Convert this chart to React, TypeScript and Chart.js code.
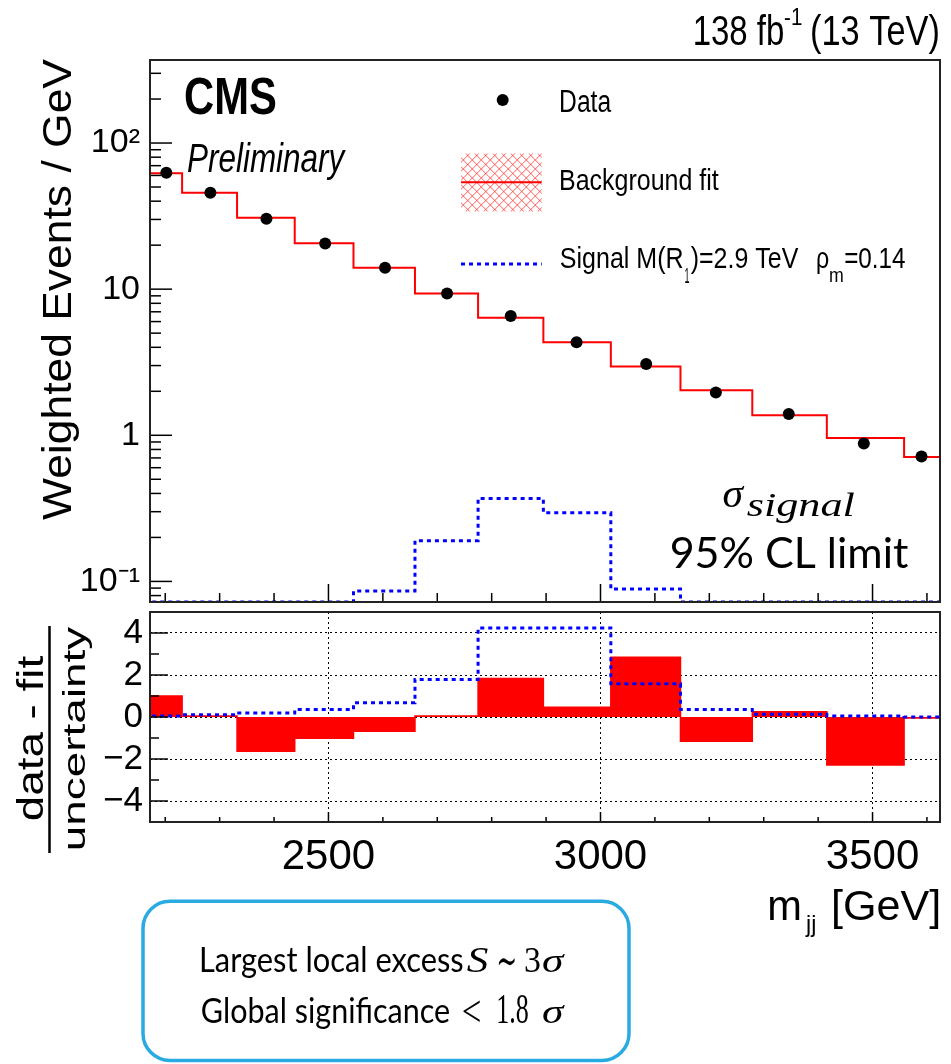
import React, { useEffect, useRef } from 'react';
import { Chart, registerables } from 'chart.js';

Chart.register(...registerables);

// ---------------- data ----------------
const BIN_EDGES = [2132, 2231, 2332, 2438, 2546, 2659, 2775, 2895, 3019, 3147, 3279, 3416, 3558, 3704];
const DATA_X = [2202, 2283, 2386, 2494, 2604, 2718, 2835, 2956, 3084, 3212, 3346, 3484, 3590];
const DATA_Y = [62.5, 45.6, 30.3, 20.5, 14.0, 9.35, 6.55, 4.33, 3.08, 1.96, 1.4, 0.877, 0.716];
const FIT_Y = [62.0, 45.6, 30.8, 20.6, 14.0, 9.35, 6.37, 4.33, 2.96, 2.03, 1.37, 0.96, 0.711];
const SIGNAL_Y = [0.0723, 0.0723, 0.0723, 0.0723, 0.086, 0.19, 0.37, 0.295, 0.0887, 0.0723, 0.0723, 0.0723, 0.0723];
const RESIDUAL_Y = [1.0, 0.05, -1.63, -1.01, -0.68, 0.05, 1.83, 0.47, 2.84, -1.15, 0.25, -2.29, -0.05];
const SIGNAL_RESIDUAL_Y = [0.05, 0.11, 0.19, 0.36, 0.68, 1.79, 4.24, 4.24, 1.58, 0.36, 0.13, 0.05, 0.0];

const X_MIN = 2172;
const X_MAX = 3624;
const X_MAJOR_TICKS = [2500, 3000, 3500];
const X_TICK_LABELS = ['2500', '3000', '3500'];
const X_MINOR_TICKS = [2200, 2300, 2400, 2500, 2600, 2700, 2800, 2900, 3000, 3100, 3200, 3300, 3400, 3500, 3600];

const Y_MIN = 0.0723;
const Y_MAX = 370;
const Y_MAJOR_TICKS = [0.1, 1, 10, 100];
const Y_TICK_LABELS = ['10\u207B\u00B9', '1', '10', '10\u00B2'];

const R_MIN = -5;
const R_MAX = 5;
const R_MAJOR_TICKS = [-4, -2, 0, 2, 4];
const R_TICK_LABELS = ['\u22124', '\u22122', '0', '2', '4'];
const R_MINOR_TICKS = [-3, -1, 1, 3];

// ---------------- helpers ----------------
const SANS = "'Liberation Sans', Arial, Helvetica, sans-serif";
const SERIF = "'Liberation Serif', 'DejaVu Serif', serif";
const CAL = "Lato, 'Open Sans', sans-serif";

function hasFont(name: string): boolean {
  const c = document.createElement('canvas').getContext('2d');
  if (!c) return false;
  const s = 'mmmmlliiWW10';
  c.font = '40px monospace';
  const a = c.measureText(s).width;
  c.font = `40px '${name}', monospace`;
  const b = c.measureText(s).width;
  return a !== b;
}

function stepPoints(edges: number[], values: number[]) {
  const pts = values.map((v, i) => ({ x: edges[i], y: v }));
  pts.push({ x: edges[edges.length - 1], y: values[values.length - 1] });
  return pts;
}

// fit ink width only (keep font height)
function fitText(ctx: CanvasRenderingContext2D, text: string, left: number, right: number, baseline: number, font: string, color = '#000') {
  ctx.save();
  ctx.font = font;
  ctx.textAlign = 'left';
  ctx.textBaseline = 'alphabetic';
  const m = ctx.measureText(text);
  const ink = m.actualBoundingBoxLeft + m.actualBoundingBoxRight;
  const s = ink > 0 ? (right - left) / ink : 1;
  ctx.translate(left, baseline);
  ctx.scale(s, 1);
  ctx.fillStyle = color;
  ctx.fillText(text, m.actualBoundingBoxLeft, 0);
  ctx.restore();
}

// fit ink box (both width and height)
function fitBox(ctx: CanvasRenderingContext2D, text: string, left: number, right: number, top: number, bottom: number, font: string) {
  ctx.save();
  ctx.font = font;
  ctx.textAlign = 'left';
  ctx.textBaseline = 'alphabetic';
  const m = ctx.measureText(text);
  const iw = m.actualBoundingBoxLeft + m.actualBoundingBoxRight;
  const ih = m.actualBoundingBoxAscent + m.actualBoundingBoxDescent;
  const sx = iw > 0 ? (right - left) / iw : 1;
  const sy = ih > 0 ? (bottom - top) / ih : 1;
  ctx.translate(left, top);
  ctx.scale(sx, sy);
  ctx.fillStyle = '#000';
  ctx.fillText(text, m.actualBoundingBoxLeft, m.actualBoundingBoxAscent);
  ctx.restore();
}

function fitTextRot(ctx: CanvasRenderingContext2D, text: string, baseX: number, bottomY: number, topY: number, font: string) {
  ctx.save();
  ctx.font = font;
  ctx.textAlign = 'left';
  ctx.textBaseline = 'alphabetic';
  const m = ctx.measureText(text);
  const ink = m.actualBoundingBoxLeft + m.actualBoundingBoxRight;
  const s = ink > 0 ? (bottomY - topY) / ink : 1;
  ctx.translate(baseX, bottomY);
  ctx.rotate(-Math.PI / 2);
  ctx.scale(s, 1);
  ctx.fillStyle = '#000';
  ctx.fillText(text, m.actualBoundingBoxLeft, 0);
  ctx.restore();
}

function zeroPad(s: any) {
  s.paddingTop = 0;
  s.paddingBottom = 0;
  s.paddingLeft = 0;
  s.paddingRight = 0;
}

function line(ctx: CanvasRenderingContext2D, x1: number, y1: number, x2: number, y2: number) {
  ctx.beginPath();
  ctx.moveTo(x1, y1);
  ctx.lineTo(x2, y2);
  ctx.stroke();
}

// ---------------- plugins ----------------
const topDecor = {
  id: 'topDecor',
  afterDraw(chart: any) {
    const ctx: CanvasRenderingContext2D = chart.ctx;
    const { left, right, top, bottom } = chart.chartArea;
    const xs = chart.scales.x;
    const ys = chart.scales.y;
    ctx.save();
    // inward ticks
    ctx.strokeStyle = '#000';
    ctx.lineWidth = 1.5;
    X_MINOR_TICKS.forEach((v) => {
      const px = xs.getPixelForValue(v);
      const len = X_MAJOR_TICKS.includes(v) ? 18 : 9;
      line(ctx, px, bottom, px, bottom - len);
    });
    for (let e = -2; e <= 2; e++) {
      for (let k = 1; k <= 9; k++) {
        const v = k * Math.pow(10, e);
        if (v < Y_MIN || v > Y_MAX) continue;
        const py = ys.getPixelForValue(v);
        line(ctx, left, py, left + (k === 1 ? 22 : 11), py);
      }
    }
    // frame
    ctx.strokeStyle = '#222';
    ctx.lineWidth = 2;
    ctx.strokeRect(left, top, right - left, bottom - top);
    ctx.restore();

    // header
    fitText(ctx, '138 fb', 695, 783.3, 45, `42px ${SANS}`);
    fitText(ctx, '-1', 785, 801.7, 25, `23px ${SANS}`);
    fitText(ctx, '(13 TeV)', 811.7, 938.3, 45, `42px ${SANS}`);
    fitText(ctx, 'CMS', 185.7, 276, 114, `bold 51px ${SANS}`);
    fitText(ctx, 'Preliminary', 187.7, 346.7, 171.7, `italic 40px ${SANS}`);

    // y title
    fitTextRot(ctx, 'Weighted Events / GeV', 71, 520, 58.3, `41px ${SANS}`);

    // legend
    ctx.save();
    ctx.fillStyle = '#000';
    ctx.beginPath();
    ctx.arc(502.7, 100, 6, 0, Math.PI * 2);
    ctx.fill();
    // hatch box
    const hx = 461, hy = 153.3, hw = 80.7, hh = 58.4;
    ctx.save();
    ctx.beginPath();
    ctx.rect(hx, hy, hw, hh);
    ctx.clip();
    ctx.strokeStyle = 'rgba(255,40,40,0.75)';
    ctx.lineWidth = 1;
    for (let d = -hh; d < hw + hh; d += 9) {
      line(ctx, hx + d, hy, hx + d + hh, hy + hh);
      line(ctx, hx + d + hh, hy, hx + d, hy + hh);
    }
    ctx.restore();
    ctx.strokeStyle = '#ff0000';
    ctx.lineWidth = 2;
    line(ctx, hx, 182.3, hx + hw, 182.3);
    ctx.strokeStyle = '#0000ff';
    ctx.lineWidth = 3;
    ctx.setLineDash([4, 4]);
    line(ctx, hx, 264, hx + hw, 264);
    ctx.setLineDash([]);
    ctx.restore();
    fitText(ctx, 'Data', 560.7, 611.7, 111.7, `31px ${SANS}`);
    fitText(ctx, 'Background fit', 560.7, 719.3, 190, `30px ${SANS}`);
    fitText(ctx, 'Signal M(R', 560.7, 683, 268.3, `30px ${SANS}`);
    fitText(ctx, '1', 685, 689.5, 283, `22px ${SANS}`);
    fitText(ctx, ')=2.9 TeV', 690.7, 798.3, 268.3, `30px ${SANS}`);
    fitText(ctx, '\u03C1', 816.7, 828.3, 268.3, `30px ${SANS}`);
    fitText(ctx, 'm', 830, 843.3, 281.7, `20px ${SANS}`);
    fitText(ctx, '=0.14', 845, 905, 268.3, `30px ${SANS}`);

    // annotation
    fitBox(ctx, '\u03C3', 723.3, 745, 485, 506.7, `italic 46px ${SERIF}`);
    fitBox(ctx, 'signal', 746.7, 855, 493.3, 523.3, `italic 32px ${SERIF}`);
    fitText(ctx, '95% CL limit', 671.7, 908.3, 567.7, `42px ${CAL}`);
  },
};

const OFF = 608; // canvas B top offset in page

const bottomDecor = {
  id: 'bottomDecor',
  afterDraw(chart: any) {
    const ctx: CanvasRenderingContext2D = chart.ctx;
    const { left, right, top, bottom } = chart.chartArea;
    const xs = chart.scales.x;
    const ys = chart.scales.y;
    ctx.save();
    ctx.strokeStyle = '#000';
    ctx.lineWidth = 1.5;
    X_MINOR_TICKS.forEach((v) => {
      const px = xs.getPixelForValue(v);
      const len = X_MAJOR_TICKS.includes(v) ? 10 : 5;
      line(ctx, px, bottom, px, bottom - len);
    });
    R_MAJOR_TICKS.forEach((v) => {
      const py = ys.getPixelForValue(v);
      line(ctx, left, py, left + 18, py);
    });
    R_MINOR_TICKS.forEach((v) => {
      const py = ys.getPixelForValue(v);
      line(ctx, left, py, left + 9, py);
    });
    ctx.strokeStyle = '#222';
    ctx.lineWidth = 2;
    ctx.strokeRect(left, top, right - left, bottom - top);

    // ratio y title (fraction)
    ctx.strokeStyle = '#000';
    ctx.lineWidth = 2.5;
    line(ctx, 49.5, 626 - OFF, 49.5, 853 - OFF);
    ctx.restore();
    fitTextRot(ctx, 'data - fit', 43.3, 820 - OFF, 655 - OFF, `37px ${SANS}`);
    fitTextRot(ctx, 'uncertainty', 85, 848.3 - OFF, 626.7 - OFF, `32px ${SANS}`);

    // x title
    fitText(ctx, 'm', 769.3, 799.3, 920 - OFF, `43px ${SANS}`);
    fitText(ctx, 'jj', 805, 815, 932 - OFF, `24px ${SANS}`);
    fitText(ctx, '[GeV]', 834, 938.3, 920 - OFF, `43px ${SANS}`);

    // summary box
    ctx.save();
    ctx.strokeStyle = '#29abe2';
    ctx.lineWidth = 3.5;
    ctx.beginPath();
    (ctx as any).roundRect(143, 901.3 - OFF, 486, 159.2, 27);
    ctx.stroke();
    ctx.restore();
    const b1 = 971.7 - OFF;
    const b2 = 1023.3 - OFF;
    fitText(ctx, 'Largest local excess', 201.7, 463, b1, `34px ${CAL}`);
    fitBox(ctx, 'S', 466.7, 488.3, 948.3 - OFF, b1, `italic 36px ${SERIF}`);
    fitBox(ctx, '\u223C', 498.3, 515, 957.3 - OFF, 966 - OFF, `36px ${SERIF}`);
    fitBox(ctx, '3', 525, 540, 948.3 - OFF, b1, `36px ${SERIF}`);
    fitBox(ctx, '\u03C3', 543.3, 565, 954 - OFF, b1, `italic 36px ${SERIF}`);
    fitText(ctx, 'Global significance', 201.7, 449.3, b2, `34px ${CAL}`);
    fitBox(ctx, '<', 463.3, 480, 1000 - OFF, 1022 - OFF, `48px ${SERIF}`);
    fitBox(ctx, '1.8', 498.3, 528.3, 995 - OFF, b2, `37px ${SERIF}`);
    fitBox(ctx, '\u03C3', 543.3, 565, 1005.7 - OFF, b2, `italic 36px ${SERIF}`);
  },
};

export default function App() {
  const refA = useRef<HTMLCanvasElement>(null);
  const refB = useRef<HTMLCanvasElement>(null);

  useEffect(() => {
    const narrow = hasFont('Liberation Sans Narrow');
    const tickFamily = narrow ? "'Liberation Sans Narrow', 'Liberation Sans', Arial" : "'Liberation Sans', Arial";
    const logTickSize = narrow ? 39 : 34;
    const rTickSize = narrow ? 37 : 35;
    const xTickSize = narrow ? 46 : 42;

    const chartA = new Chart(refA.current as HTMLCanvasElement, {
      type: 'line',
      data: {
        datasets: [
          {
            type: 'scatter',
            label: 'Data',
            data: DATA_X.map((x, i) => ({ x, y: DATA_Y[i] })),
            pointRadius: 6,
            pointBackgroundColor: '#000',
            pointBorderColor: '#000',
            pointBorderWidth: 0,
            showLine: false,
            order: 0,
          } as any,
          {
            label: 'Signal M(R1)=2.9 TeV',
            data: stepPoints(BIN_EDGES, SIGNAL_Y),
            stepped: true,
            borderColor: '#0000ff',
            borderWidth: 3,
            borderDash: [4, 4],
            pointRadius: 0,
            fill: false,
            order: 1,
          },
          {
            label: 'Background fit',
            data: stepPoints(BIN_EDGES, FIT_Y),
            stepped: true,
            borderColor: '#ff0000',
            borderWidth: 2,
            pointRadius: 0,
            fill: false,
            order: 2,
          },
        ],
      },
      options: {
        responsive: false,
        maintainAspectRatio: false,
        animation: false,
        layout: { padding: { left: 0, right: 11, top: 60, bottom: 4 } },
        plugins: { legend: { display: false }, tooltip: { enabled: false } },
        scales: {
          x: {
            type: 'linear',
            min: X_MIN,
            max: X_MAX,
            ticks: { display: false },
            grid: { display: false, drawTicks: false },
            border: { display: false },
            afterFit: (s: any) => {
              s.height = 0;
              zeroPad(s);
            },
          },
          y: {
            type: 'logarithmic',
            min: Y_MIN,
            max: Y_MAX,
            afterBuildTicks: (s: any) => {
              s.ticks = Y_MAJOR_TICKS.map((v) => ({ value: v, major: true }));
            },
            ticks: {
              autoSkip: false,
              callback: (_v: any, i: number) => Y_TICK_LABELS[i],
              color: '#000',
              padding: 10,
              font: { family: tickFamily, size: logTickSize },
            },
            grid: { display: false, drawTicks: false },
            border: { display: false },
            afterFit: (s: any) => {
              s.width = 150;
              zeroPad(s);
            },
          },
        },
      },
      plugins: [topDecor],
    });

    const chartB = new Chart(refB.current as HTMLCanvasElement, {
      type: 'line',
      data: {
        datasets: [
          {
            label: 'Signal',
            data: stepPoints(BIN_EDGES, SIGNAL_RESIDUAL_Y),
            stepped: true,
            borderColor: '#0000ff',
            borderWidth: 3,
            borderDash: [4, 4],
            pointRadius: 0,
            fill: false,
            order: 0,
          },
          {
            label: '(data - fit) / uncertainty',
            data: stepPoints(BIN_EDGES, RESIDUAL_Y),
            stepped: true,
            borderColor: '#ff0000',
            backgroundColor: '#ff0000',
            borderWidth: 1.5,
            pointRadius: 0,
            fill: 'origin',
            order: 1,
          },
        ],
      },
      options: {
        responsive: false,
        maintainAspectRatio: false,
        animation: false,
        layout: { padding: { left: 0, right: 11, top: 4, bottom: 182 } },
        plugins: { legend: { display: false }, tooltip: { enabled: false } },
        scales: {
          x: {
            type: 'linear',
            min: X_MIN,
            max: X_MAX,
            afterBuildTicks: (s: any) => {
              s.ticks = X_MAJOR_TICKS.map((v) => ({ value: v }));
            },
            ticks: {
              autoSkip: false,
              maxRotation: 0,
              callback: (_v: any, i: number) => X_TICK_LABELS[i],
              color: '#000',
              padding: 10,
              font: { family: tickFamily, size: xTickSize },
            },
            grid: { display: true, drawTicks: false, color: '#000', lineWidth: 1 },
            border: { display: false, dash: [2, 3] },
            afterFit: (s: any) => {
              s.height = 60;
              zeroPad(s);
            },
          },
          y: {
            type: 'linear',
            min: R_MIN,
            max: R_MAX,
            afterBuildTicks: (s: any) => {
              s.ticks = R_MAJOR_TICKS.map((v) => ({ value: v }));
            },
            ticks: {
              autoSkip: false,
              callback: (_v: any, i: number) => R_TICK_LABELS[i],
              color: '#000',
              padding: 7,
              font: { family: tickFamily, size: rTickSize },
            },
            grid: { display: true, drawTicks: false, color: '#000', lineWidth: 1 },
            border: { display: false, dash: [2, 3] },
            afterFit: (s: any) => {
              s.width = 150;
              zeroPad(s);
            },
          },
        },
      },
      plugins: [bottomDecor],
    });

    return () => {
      chartA.destroy();
      chartB.destroy();
    };
  }, []);

  return (
    <div style={{ position: 'absolute', left: 0, top: 0, width: 951, height: 1064, background: '#fff', overflow: 'hidden' }}>
      <canvas ref={refA} width={951} height={608} style={{ position: 'absolute', left: 0, top: 0, width: 951, height: 608 }} />
      <canvas ref={refB} width={951} height={456} style={{ position: 'absolute', left: 0, top: 608, width: 951, height: 456 }} />
    </div>
  );
}
